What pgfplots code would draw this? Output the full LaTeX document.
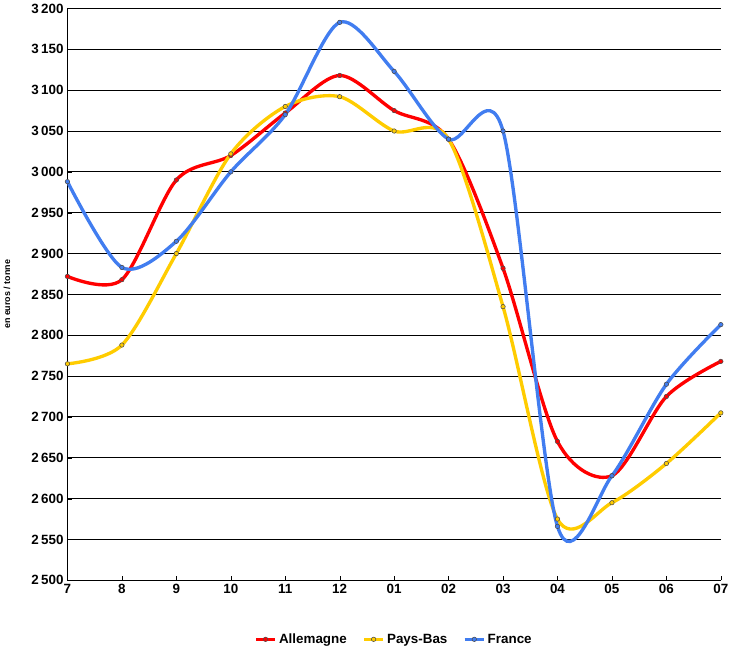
\documentclass[border=0pt]{standalone}
\usepackage{pgfplots}
\pgfplotsset{compat=1.18}
\usepackage{fontspec}
\setmainfont{Liberation Sans}
\begin{document}
\begin{tikzpicture}
\begin{axis}[
  width=585pt, height=512pt, scale only axis,
  every axis plot/.append style={line width=3pt},
  axis lines*=left,
  axis line style={line width=0.8pt},
  xmin=0, xmax=12, ymin=2500, ymax=3200,
  xtick={0,...,12},
  xticklabels={7,8,9,10,11,12,01,02,03,04,05,06,07},
  ytick={2500,2550,...,3200},
  ymajorgrids, grid style={black, line width=0.8pt},
  tick style={black},
  tick label style={font=\bfseries\large},
  /pgf/number format/assume math mode=true,
  yticklabel={\pgfmathprintnumber[1000 sep={\,}, fixed]{\tick}},
  ylabel={\bfseries\footnotesize en euros / tonne},
  ylabel shift=12pt,
  legend style={at={(0.5,-0.085)}, anchor=north, draw=none, legend columns=3, font=\bfseries\large, /tikz/every even column/.append style={column sep=12pt}},
]
\addplot[red, smooth, tension=0.5, mark=*, mark size=2pt, mark options={solid, line width=0.5pt, draw=black!70, fill=red}] coordinates {(0,2872)(1,2868)(2,2990)(3,3020)(4,3072)(5,3118)(6,3075)(7,3040)(8,2882)(9,2670)(10,2628)(11,2725)(12,2768)};
\addlegendentry{Allemagne}
\addplot[color={rgb,255:red,255;green,204;blue,0}, smooth, tension=0.5, mark=*, mark size=2pt, mark options={solid, line width=0.5pt, draw=black!70, fill={rgb,255:red,255;green,204;blue,0}}] coordinates {(0,2765)(1,2788)(2,2900)(3,3022)(4,3080)(5,3092)(6,3050)(7,3040)(8,2835)(9,2575)(10,2595)(11,2643)(12,2705)};
\addlegendentry{Pays-Bas}
\addplot[color={rgb,255:red,65;green,125;blue,240}, smooth, tension=0.5, mark=*, mark size=2pt, mark options={solid, line width=0.5pt, draw=black!70, fill={rgb,255:red,65;green,125;blue,240}}] coordinates {(0,2988)(1,2883)(2,2915)(3,3000)(4,3070)(5,3183)(6,3123)(7,3040)(8,3050)(9,2566)(10,2628)(11,2740)(12,2813)};
\addlegendentry{France}
\node[font=\bfseries\footnotesize] at (axis cs:0,2500) [yshift=-52pt] {2019};
\node[font=\bfseries\footnotesize] at (axis cs:12,2500) [yshift=-52pt] {2020};
\end{axis}
\end{tikzpicture}
\end{document}
